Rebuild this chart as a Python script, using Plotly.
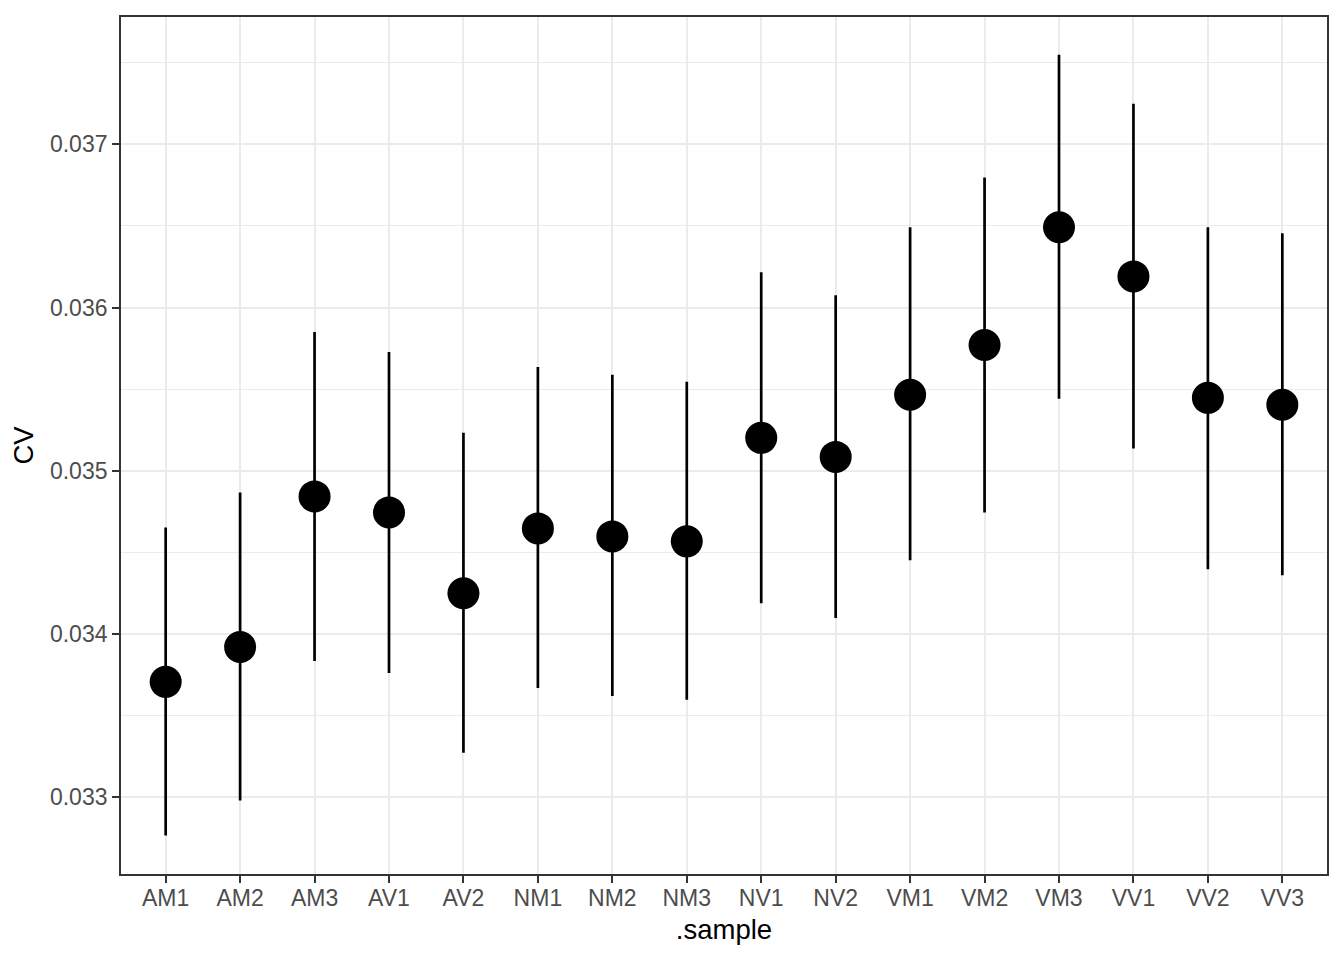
import plotly.graph_objects as go

# values
samples = ["AM1", "AM2", "AM3", "AV1", "AV2", "NM1", "NM2", "NM3",
           "NV1", "NV2", "VM1", "VM2", "VM3", "VV1", "VV2", "VV3"]
cv = [0.033707, 0.033921, 0.034843, 0.034745, 0.034250, 0.034647, 0.034598, 0.034568,
      0.035202, 0.035085, 0.035466, 0.035771, 0.036492, 0.036191, 0.035447, 0.035405]
cv_upper = [0.034653, 0.034867, 0.035850, 0.035728, 0.035233, 0.035636, 0.035588, 0.035545,
            0.036216, 0.036076, 0.036492, 0.036797, 0.037548, 0.037248, 0.036492, 0.036455]
cv_lower = [0.032766, 0.032980, 0.033835, 0.033762, 0.033273, 0.033670, 0.033621, 0.033597,
            0.034189, 0.034098, 0.034452, 0.034745, 0.035441, 0.035136, 0.034397, 0.034360]

y_ticks = [0.033, 0.034, 0.035, 0.036, 0.037]

err_plus = [u - m for u, m in zip(cv_upper, cv)]
err_minus = [m - l for m, l in zip(cv, cv_lower)]

fig = go.Figure()
fig.add_trace(go.Scatter(
    x=samples,
    y=cv,
    mode="markers",
    marker=dict(color="black", size=32),
    error_y=dict(type="data", symmetric=False, array=err_plus,
                 arrayminus=err_minus, color="black", thickness=2.7, width=0),
    showlegend=False,
))

# page body adds an 8px margin, so the figure is sized a little smaller
fig.update_layout(
    width=1328,
    height=944,
    margin=dict(l=113, r=8, t=7, b=78),
    plot_bgcolor="white",
    paper_bgcolor="white",
    font=dict(family="Liberation Sans, Arial, sans-serif"),
)

fig.update_xaxes(
    title=dict(text=".sample", font=dict(size=27.5, color="black"), standoff=10),
    tickfont=dict(size=23, color="#4d4d4d"),
    ticklabelstandoff=-5,
    range=[-0.6, len(samples) - 0.4],
    showgrid=True, gridcolor="#ebebeb", gridwidth=2.2,
    ticks="outside", ticklen=7, tickcolor="#333333", tickwidth=2,
    showline=True, mirror=True, linecolor="#333333", linewidth=1.8,
    zeroline=False,
)

fig.update_yaxes(
    title=dict(text="CV", font=dict(size=27.5, color="black"), standoff=9),
    tickfont=dict(size=23, color="#4d4d4d"),
    range=[0.032530, 0.037780],
    tickvals=y_ticks,
    ticktext=[f"{v:.3f}" for v in y_ticks],
    showgrid=True, gridcolor="#ebebeb", gridwidth=2.2,
    minor=dict(dtick=0.0005, tick0=0.0325, showgrid=True,
               gridcolor="#ebebeb", gridwidth=1.1, ticks=""),
    ticks="outside", ticklen=7, tickcolor="#333333", tickwidth=2,
    showline=True, mirror=True, linecolor="#333333", linewidth=1.8,
    zeroline=False,
)

fig.write_html("out.html")
